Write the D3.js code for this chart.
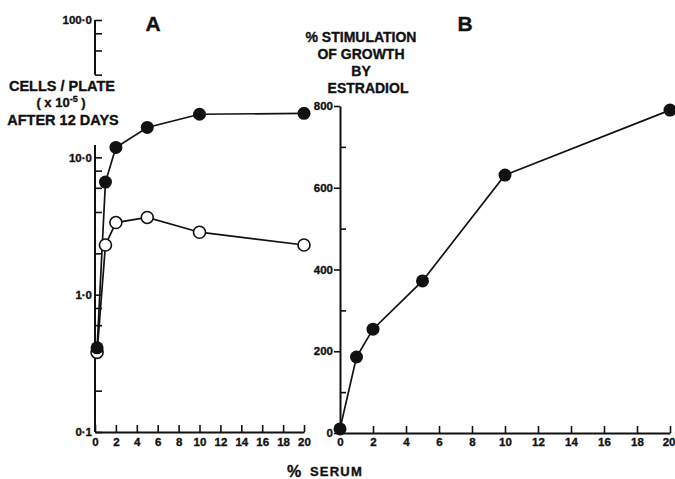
<!DOCTYPE html>
<html>
<head>
<meta charset="utf-8">
<script src="https://cdn.jsdelivr.net/npm/d3@7"></script>
<style>
  html, body { margin: 0; padding: 0; background: #fff; }
  svg { display: block; }
  text { font-family: "Liberation Sans", Arial, sans-serif; font-weight: bold; fill: #111; stroke: #111; stroke-width: 0.35; }
</style>
</head>
<body>
<svg id="chart" width="675" height="479"></svg>
<script>
// Panel A: cell yield after 12 days vs serum concentration (log scale)
const serumA = [0.2, 1, 2, 5, 10, 20];
const cellsWithEstradiol = [0.41, 6.6, 11.8, 16.5, 20.6, 20.9];
const cellsWithoutEstradiol = [0.38, 2.3, 3.35, 3.65, 2.85, 2.3];
const yTicksAUpper = [100, 80, 60, 40];
const yTicksALower = [10, 8, 6, 4, 2, 1, 0.8, 0.6, 0.4, 0.2, 0.1];
const yLabelsA = { 100: "100·0", 10: "10·0", 1: "1·0", 0.1: "0·1" };

// Panel B: % stimulation of growth by estradiol vs serum concentration
const serumB = [0, 1, 2, 5, 10, 20];
const stimulation = [10, 186, 254, 372, 631, 790];
const yTicksBMajor = [0, 200, 400, 600, 800];
const yTicksBMinor = [100, 300, 500, 700];

const xTicks = d3.range(0, 21, 2);

const svg = d3.select("#chart");
const ink = "#111";

// ---------- Panel A ----------
const xA = d3.scaleLinear().domain([0, 20]).range([95, 304]);
const yA = d3.scaleLog().domain([0.1, 100]).range([432, 20]);

const gA = svg.append("g");

// broken y axis: upper stub and main section
gA.append("line").attr("x1", xA(0)).attr("x2", xA(0))
  .attr("y1", yA(100)).attr("y2", yA(40))
  .attr("stroke", ink).attr("stroke-width", 2);
gA.append("line").attr("x1", xA(0)).attr("x2", xA(0))
  .attr("y1", yA(12.3)).attr("y2", yA(0.1))
  .attr("stroke", ink).attr("stroke-width", 2);

const yAxisA = d3.axisLeft(yA)
  .tickValues(yTicksAUpper.concat(yTicksALower))
  .tickSizeInner(-7).tickSizeOuter(0).tickPadding(3)
  .tickFormat(d => yLabelsA[d] || "");
const yAxA = gA.append("g").attr("transform", `translate(${xA(0)},0)`).call(yAxisA);
yAxA.select(".domain").remove();
yAxA.selectAll("line").attr("stroke", ink).attr("stroke-width", 1.6);
yAxA.selectAll("text").attr("font-size", 11.5).attr("font-family", null).attr("fill", ink);

const xAxisA = d3.axisBottom(xA).tickValues(xTicks)
  .tickSizeInner(-7).tickSizeOuter(0).tickPadding(6);
const xAxA = gA.append("g").attr("transform", `translate(0,${yA(0.1)})`).call(xAxisA);
xAxA.select(".domain").attr("stroke", ink).attr("stroke-width", 2);
xAxA.selectAll("line").attr("stroke", ink).attr("stroke-width", 1.6);
xAxA.selectAll("text").attr("font-size", 11.5).attr("font-family", null).attr("fill", ink);

const lineA = vals => d3.line().x((d, i) => xA(serumA[i])).y(d => yA(d))(vals);

gA.append("path").attr("d", lineA(cellsWithoutEstradiol))
  .attr("fill", "none").attr("stroke", ink).attr("stroke-width", 1.7);
gA.append("path").attr("d", lineA(cellsWithEstradiol))
  .attr("fill", "none").attr("stroke", ink).attr("stroke-width", 1.7);

gA.selectAll("circle.open").data(cellsWithoutEstradiol).join("circle")
  .attr("class", "open")
  .attr("cx", (d, i) => xA(serumA[i])).attr("cy", d => yA(d)).attr("r", 6)
  .attr("fill", "#fff").attr("stroke", ink).attr("stroke-width", 1.6);
gA.selectAll("circle.filled").data(cellsWithEstradiol).join("circle")
  .attr("class", "filled")
  .attr("cx", (d, i) => xA(serumA[i])).attr("cy", d => yA(d)).attr("r", 6.5)
  .attr("fill", ink);

gA.append("text").attr("x", 153).attr("y", 31).attr("text-anchor", "middle")
  .attr("font-size", 21).text("A");

const titleA = gA.append("g").attr("font-size", 14.5);
titleA.append("text").attr("x", 62).attr("y", 91).attr("text-anchor", "middle").text("CELLS / PLATE");
const sub = titleA.append("text").attr("x", 61).attr("y", 107).attr("text-anchor", "middle").attr("font-size", 13);
sub.append("tspan").text("( x 10");
sub.append("tspan").attr("font-size", 9).attr("dy", -5).text("-5");
sub.append("tspan").attr("dy", 5).text(" )");
titleA.append("text").attr("x", 63).attr("y", 125).attr("text-anchor", "middle").text("AFTER 12 DAYS");

// ---------- Panel B ----------
const xB = d3.scaleLinear().domain([0, 20]).range([340, 670]);
const yB = d3.scaleLinear().domain([0, 800]).range([433, 106]);

const gB = svg.append("g");

const yAxisBMajor = d3.axisLeft(yB).tickValues(yTicksBMajor)
  .tickSizeInner(6).tickSizeOuter(0).tickPadding(1).tickFormat(d3.format("d"));
const yAxB = gB.append("g").attr("transform", `translate(${xB(0)},0)`).call(yAxisBMajor);
yAxB.select(".domain").attr("stroke", ink).attr("stroke-width", 2);
yAxB.selectAll("line").attr("stroke", ink).attr("stroke-width", 1.6);
yAxB.selectAll("text").attr("font-size", 11.5).attr("font-family", null).attr("fill", ink);

const yAxisBMinor = d3.axisRight(yB).tickValues(yTicksBMinor)
  .tickSizeInner(6).tickSizeOuter(0).tickFormat("");
const yAxBm = gB.append("g").attr("transform", `translate(${xB(0)},0)`).call(yAxisBMinor);
yAxBm.select(".domain").remove();
yAxBm.selectAll("line").attr("stroke", ink).attr("stroke-width", 1.6);

const xAxisB = d3.axisBottom(xB).tickValues(xTicks)
  .tickSizeInner(-7).tickSizeOuter(0).tickPadding(5);
const xAxB = gB.append("g").attr("transform", `translate(0,${yB(0)})`).call(xAxisB);
xAxB.select(".domain").attr("stroke", ink).attr("stroke-width", 2);
xAxB.selectAll("line").attr("stroke", ink).attr("stroke-width", 1.6);
xAxB.selectAll("text").attr("font-size", 11.5).attr("font-family", null).attr("fill", ink);
// keep the last label inside the right edge
xAxB.selectAll(".tick").filter(d => d === 20).select("text").attr("text-anchor", "end").attr("dx", 5);

gB.append("path")
  .attr("d", d3.line().x((d, i) => xB(serumB[i])).y(d => yB(d))(stimulation))
  .attr("fill", "none").attr("stroke", ink).attr("stroke-width", 1.7);
gB.selectAll("circle").data(stimulation).join("circle")
  .attr("cx", (d, i) => xB(serumB[i])).attr("cy", d => yB(d)).attr("r", 6.5)
  .attr("fill", ink);

gB.append("text").attr("x", 465).attr("y", 31).attr("text-anchor", "middle")
  .attr("font-size", 21).text("B");

const titleB = gB.append("g").attr("font-size", 14);
titleB.append("text").attr("x", 361).attr("y", 42).attr("text-anchor", "middle").text("% STIMULATION");
titleB.append("text").attr("x", 361).attr("y", 59).attr("text-anchor", "middle").text("OF  GROWTH");
titleB.append("text").attr("x", 361).attr("y", 76).attr("text-anchor", "middle").text("BY");
titleB.append("text").attr("x", 368).attr("y", 93).attr("text-anchor", "middle").text("ESTRADIOL");

// shared x-axis title
svg.append("text").attr("x", 287).attr("y", 477).attr("font-size", 16).text("%");
svg.append("text").attr("x", 310).attr("y", 476).attr("font-size", 13)
  .attr("letter-spacing", 1.2).text("SERUM");
</script>
</body>
</html>
